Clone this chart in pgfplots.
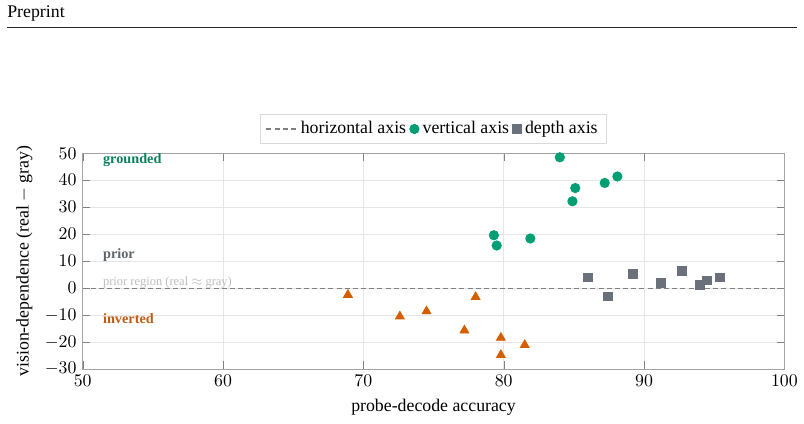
\documentclass[border=0pt]{standalone}
\usepackage{fontspec}
\setmainfont{Liberation Serif}
\usepackage{pgfplots}
\pgfplotsset{compat=1.18}

\definecolor{vgreen}{HTML}{009E73}
\definecolor{vgreentxt}{HTML}{0B7F5C}
\definecolor{dgray}{HTML}{6B717A}
\definecolor{priortxt}{HTML}{5E646C}
\definecolor{horange}{HTML}{D55E00}
\definecolor{invtxt}{HTML}{C25A12}
\definecolor{gridgray}{HTML}{E6E6E6}
\definecolor{framegray}{HTML}{A3A3A3}
\definecolor{zerogray}{HTML}{808080}
\definecolor{regiontxt}{HTML}{BDBDBD}
\definecolor{legendframe}{HTML}{DADADA}

\pgfplotsset{
  single mark legend/.style={
    legend image code/.code={\draw[##1] plot coordinates {(0.12cm,0cm)};}},
}

\begin{document}
\begin{tikzpicture}
% page area
\path[use as bounding box] (0pt,0pt) rectangle (451.7pt,-238.2pt);
% running head
\node[anchor=base west, inner sep=0pt, font=\fontsize{10}{12}\selectfont] at (3.93pt,-9.9pt) {Preprint};
\draw[line width=0.5pt, black!85] (3.93pt,-15.17pt) -- (447.8pt,-15.17pt);

\begin{axis}[
  at={(46.46pt,-207.3pt)}, anchor=south west,
  scale only axis, width=394.2pt, height=121.2pt,
  xmin=50, xmax=100, ymin=-30, ymax=50,
  xtick={50,60,...,100}, ytick={-30,-20,...,50},
  grid=major,
  major grid style={color=gridgray, line width=0.4pt},
  axis line style={color=framegray},
  tick style={color=framegray!80!black},
  tick align=inside,
  xlabel={probe-decode accuracy},
  ylabel={vision-dependence (real $-$ gray)},
  label style={font=\fontsize{10}{12}\selectfont},
  legend style={at={(0.5,1.043)}, anchor=south, legend columns=-1,
    draw=legendframe, font=\fontsize{10}{12}\selectfont,
    inner xsep=3pt, inner ysep=2pt},
  legend cell align=left,
]
% zero reference line (horizontal axis)
\addplot[zerogray, line width=0.6pt, dash pattern=on 2.8pt off 1.8pt]
  coordinates {(50,0) (100,0)};
\addlegendentry{horizontal axis}

% vertical axis
\addplot[only marks, mark=*, mark size=2.65pt, color=vgreen, fill=vgreen, single mark legend]
  coordinates {
  (84.0,48.5) (88.1,41.4) (87.2,39.0) (85.1,37.1)
  (84.9,32.2) (79.3,19.6) (79.5,15.8) (81.9,18.4)
  };
\addlegendentry{vertical axis}

% depth axis
\addplot[only marks, mark=square*, mark size=2.45pt, color=dgray, fill=dgray, single mark legend]
  coordinates {
  (86.0,4.0) (87.4,-3.1) (89.2,5.3) (91.2,1.9)
  (92.7,6.4) (94.0,1.1) (94.5,2.9) (95.4,4.0)
  };
\addlegendentry{depth axis}

% horizontal axis samples
\addplot[only marks, mark=triangle*, mark size=2.9pt, color=horange, fill=horange, forget plot]
  coordinates {
  (68.9,-2.5) (72.6,-10.5) (74.5,-8.6) (78.0,-3.3)
  (77.2,-15.7) (79.8,-18.4) (79.8,-24.8) (81.5,-21.1)
  };

% region annotations
\node[anchor=west, inner sep=0pt, font=\fontsize{8}{9}\selectfont\bfseries, text=vgreentxt]
  at (axis cs:51.43,47.5) {grounded};
\node[anchor=west, inner sep=0pt, font=\fontsize{8}{9}\selectfont\bfseries, text=priortxt]
  at (axis cs:51.43,12.3) {prior};
\node[anchor=west, inner sep=0pt, font=\fontsize{7}{8}\selectfont, text=regiontxt]
  at (axis cs:51.43,2.2) {prior region (real $\approx$ gray)};
\node[anchor=west, inner sep=0pt, font=\fontsize{8}{9}\selectfont\bfseries, text=invtxt]
  at (axis cs:51.43,-11.5) {inverted};
\end{axis}
\end{tikzpicture}
\end{document}
